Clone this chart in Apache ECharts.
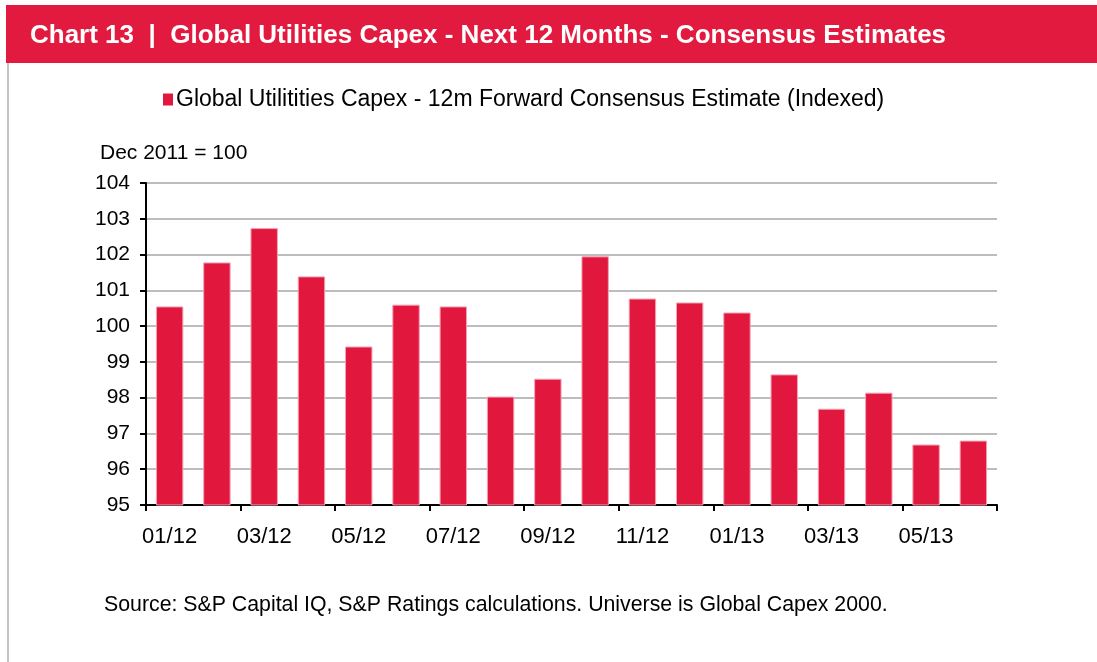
<!DOCTYPE html>
<html>
<head>
<meta charset="utf-8">
<script src="https://cdn.jsdelivr.net/npm/echarts@6/dist/echarts.min.js"></script>
<style>
  html, body { margin: 0; padding: 0; background: #fff; }
  #chart { width: 1097px; height: 662px; }
</style>
</head>
<body>
<div id="chart"></div>
<script>
'use strict';

var months = ['01/12', '02/12', '03/12', '04/12', '05/12', '06/12', '07/12', '08/12', '09/12',
  '10/12', '11/12', '12/12', '01/13', '02/13', '03/13', '04/13', '05/13', '06/13'];
var capexIndex = [100.55, 101.78, 102.74, 101.39, 99.43, 100.6, 100.55, 98.03, 98.53,
  101.95, 100.77, 100.66, 100.38, 98.65, 97.69, 98.14, 96.69, 96.8];
var seriesName = 'Global Utilitities Capex - 12m Forward Consensus Estimate (Indexed)';

var red = '#E2173D';
var font = '"Liberation Sans", Arial, sans-serif';

var myChart = echarts.init(document.getElementById('chart'), null, {renderer: 'canvas'});

var option = {
  animation: false,
  textStyle: {fontFamily: font},
  title: [
    {
      text: 'Chart 13  |  Global Utilities Capex - Next 12 Months - Consensus Estimates',
      left: 30,
      top: 23,
      padding: 0,
      textStyle: {color: '#fff', fontSize: 26, fontWeight: 'bold', fontFamily: font}
    },
    {
      text: 'Dec 2011 = 100',
      left: 100,
      top: 143,
      padding: 0,
      textStyle: {color: '#000', fontSize: 21, fontWeight: 'normal', fontFamily: font}
    },
    {
      text: 'Source: S&P Capital IQ, S&P Ratings calculations. Universe is Global Capex 2000.',
      left: 104,
      top: 595,
      padding: 0,
      textStyle: {color: '#000', fontSize: 21.3, fontWeight: 'normal', fontFamily: font}
    }
  ],
  graphic: [
    {
      type: 'rect',
      z: -1,
      shape: {x: 6, y: 5, width: 1091, height: 58},
      style: {fill: '#E31A3F'}
    },
    {
      type: 'line',
      shape: {x1: 8, y1: 63, x2: 8, y2: 662},
      style: {stroke: '#C4C4C4', lineWidth: 2}
    }
  ],
  legend: {
    data: [seriesName],
    left: 163,
    top: 88,
    padding: 0,
    icon: 'rect',
    itemWidth: 10,
    itemHeight: 12,
    itemGap: 4,
    itemStyle: {borderWidth: 0},
    textStyle: {color: '#000', fontSize: 23, fontFamily: font, padding: [0, 0, 0, -2]}
  },
  grid: {left: 146, right: 100, top: 183, bottom: 157},
  xAxis: {
    type: 'category',
    data: months,
    axisLine: {lineStyle: {color: '#000', width: 2}},
    axisTick: {show: true, interval: 1, length: 6, lineStyle: {color: '#000', width: 2}},
    axisLabel: {interval: 1, color: '#000', fontSize: 22, margin: 21, fontFamily: font}
  },
  yAxis: {
    type: 'value',
    min: 95,
    max: 104,
    interval: 1,
    axisLine: {show: true, lineStyle: {color: '#000', width: 2}},
    axisTick: {show: true, length: 6, lineStyle: {color: '#000', width: 2}},
    axisLabel: {color: '#000', fontSize: 21, margin: 16, fontFamily: font},
    splitLine: {lineStyle: {color: '#BDBDBD', width: 2}}
  },
  series: [
    {
      name: seriesName,
      type: 'bar',
      data: capexIndex,
      barWidth: '58%',
      itemStyle: {color: red, borderColor: '#F2A3B3', borderWidth: 1}
    }
  ]
};

myChart.setOption(option);
</script>
</body>
</html>
